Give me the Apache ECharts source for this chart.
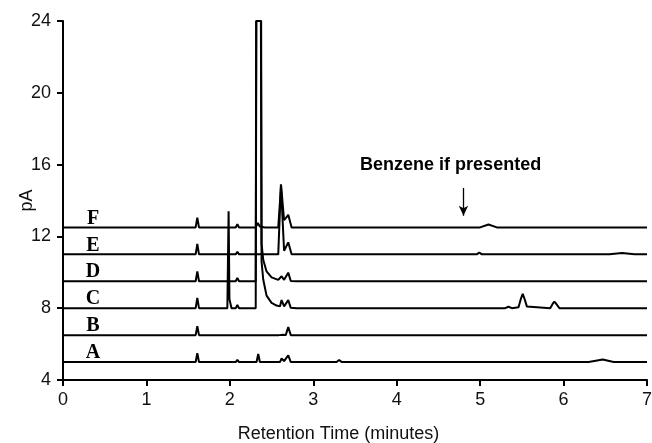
<!DOCTYPE html>
<html>
<head>
<meta charset="utf-8">
<script src="https://cdn.jsdelivr.net/npm/echarts@6/dist/echarts.min.js"></script>
<style>
  html, body { margin: 0; padding: 0; background: #fff; }
  #main { width: 652px; height: 443px; }
</style>
</head>
<body>
<div id="main"></div>
<script>
// trace names and their baselines (pA)
var traceNames = ["A", "B", "C", "D", "E", "F"];
var baselines = [5.0, 6.5, 8.0, 9.5, 11.0, 12.5];

// x ticks (minutes) and y ticks (pA)
var xTicks = [0, 1, 2, 3, 4, 5, 6, 7];
var yTicks = [4, 8, 12, 16, 20, 24];

// chromatogram points: [minutes, pA]
var traceA = [
  [0, 5], [1.59, 5], [1.61, 5.5], [1.63, 5], [1.97, 5], [1.99, 5.1], [2.01, 5],
  [2.07, 5], [2.09, 5.12], [2.11, 5], [2.32, 5], [2.34, 5.45], [2.36, 5],
  [2.6, 5], [2.62, 5.2], [2.65, 5.05], [2.7, 5.38], [2.73, 5],
  [3.21, 5], [3.23, 5.08], [3.25, 5], [3.28, 5], [3.31, 5.12], [3.34, 5],
  [6.3, 5], [6.47, 5.14], [6.6, 5], [7, 5]
];
var traceB = [
  [0, 6.5], [1.59, 6.5], [1.61, 7.0], [1.63, 6.5], [2.07, 6.5], [2.09, 6.58], [2.11, 6.5],
  [2.59, 6.5], [2.61, 6.6], [2.64, 6.52], [2.67, 6.5], [2.7, 6.95], [2.73, 6.5],
  [3.2, 6.5], [3.22, 6.58], [3.24, 6.5], [7, 6.5]
];
var traceC = [
  [0, 8], [1.59, 8], [1.61, 8.58], [1.63, 8], [1.97, 8], [1.985, 13.4], [1.995, 8.5], [2.02, 8],
  [2.07, 8], [2.09, 8.18], [2.11, 8], [2.31, 8], [2.315, 24], [2.375, 24],
  [2.38, 10.6], [2.4, 9.6], [2.44, 8.7], [2.5, 8.3], [2.56, 8.15], [2.6, 8.1],
  [2.62, 8.45], [2.65, 8.1], [2.7, 8.45], [2.73, 8.02], [2.8, 8],
  [3.2, 8], [3.22, 8.1], [3.24, 8], [5.3, 8], [5.34, 8.08], [5.38, 8],
  [5.46, 8.05], [5.49, 8.55], [5.51, 8.8], [5.53, 8.55], [5.56, 8.1], [5.58, 8],
  [5.84, 8], [5.87, 8.25], [5.89, 8.37], [5.91, 8.25], [5.95, 8], [7, 8]
];
var traceD = [
  [0, 9.5], [1.59, 9.5], [1.61, 10.05], [1.63, 9.5], [2.07, 9.5], [2.09, 9.68], [2.11, 9.5],
  [2.31, 9.5], [2.318, 24], [2.372, 24], [2.38, 11.6], [2.4, 10.7], [2.44, 10.05],
  [2.5, 9.72], [2.58, 9.58], [2.62, 9.78], [2.65, 9.58], [2.7, 9.98], [2.73, 9.52], [2.8, 9.5],
  [3.2, 9.5], [3.22, 9.58], [3.24, 9.5], [3.7, 9.5], [3.72, 9.56], [3.74, 9.5], [7, 9.5]
];
var traceE = [
  [0, 11], [1.59, 11], [1.61, 11.58], [1.63, 11], [2.07, 11], [2.09, 11.15], [2.11, 11],
  [2.58, 11], [2.612, 14.9], [2.65, 11.2], [2.7, 11.67], [2.74, 11],
  [3.2, 11], [3.22, 11.1], [3.24, 11], [4.96, 11], [4.99, 11.1], [5.02, 11],
  [5.5, 11], [5.52, 11.08], [5.54, 11], [6.55, 11], [6.7, 11.08], [6.85, 11], [7, 11]
];
var traceF = [
  [0, 12.5], [1.59, 12.5], [1.61, 13.05], [1.63, 12.5], [2.07, 12.5], [2.09, 12.68], [2.11, 12.5],
  [2.31, 12.5], [2.335, 12.75], [2.36, 12.55], [2.42, 12.5],
  [2.58, 12.5], [2.614, 14.85], [2.65, 12.9], [2.7, 13.2], [2.74, 12.5],
  [3.2, 12.5], [3.22, 12.58], [3.24, 12.5], [3.91, 12.5], [3.93, 12.6], [3.95, 12.5],
  [5.0, 12.5], [5.1, 12.66], [5.2, 12.5], [5.84, 12.5], [5.86, 12.58], [5.88, 12.5], [7, 12.5]
];
var traces = [traceA, traceB, traceC, traceD, traceE, traceF];

var myChart = echarts.init(document.getElementById("main"));

var black = "#000";
var series = traces.map(function (d, i) {
  return {
    name: traceNames[i],
    type: "line",
    data: d,
    showSymbol: false,
    animation: false,
    lineStyle: { color: black, width: 2 },
    z: 3
  };
});

// arrow pointing to where benzene would elute
series[5].markLine = {
  silent: true,
  symbol: ["none", "arrow"],
  symbolSize: [7, 10],
  label: { show: false },
  lineStyle: { color: black, width: 1.3, type: "solid" },
  data: [[{ coord: [4.8, 14.7] }, { coord: [4.8, 13.15] }]]
};

// trace letters just above each baseline
series.push({
  type: "scatter",
  symbolSize: 0,
  silent: true,
  animation: false,
  itemStyle: { color: black, opacity: 1 },
  data: baselines.map(function (b, i) { return { value: [0.36, b + 0.5], name: traceNames[i] }; }),
  label: {
    show: true,
    position: "inside",
    formatter: "{b}",
    color: black,
    opacity: 1,
    textBorderWidth: 0,
    fontFamily: "Liberation Serif, Times New Roman, serif",
    fontWeight: "bold",
    fontSize: 20
  }
});

// annotation text
series.push({
  type: "scatter",
  symbolSize: 0,
  silent: true,
  animation: false,
  itemStyle: { color: black, opacity: 1 },
  data: [{ value: [4.646, 15.98], name: "Benzene if presented" }],
  label: {
    show: true,
    position: "inside",
    formatter: "{b}",
    color: black,
    opacity: 1,
    textBorderWidth: 0,
    fontFamily: "Liberation Sans, Arial, sans-serif",
    fontWeight: "bold",
    fontSize: 18
  }
});

var axisFont = { color: "#111", fontSize: 18, fontFamily: "Liberation Sans, Arial, sans-serif" };

myChart.setOption({
  animation: false,
  grid: { left: 63, right: 5, top: 21, bottom: 63, containLabel: false, outerBoundsMode: "none" },
  xAxis: {
    type: "value",
    min: xTicks[0],
    max: xTicks[xTicks.length - 1],
    interval: 1,
    name: "Retention Time (minutes)",
    nameLocation: "middle",
    nameGap: 45,
    nameMoveOverlap: false,
    nameTextStyle: Object.assign({ padding: [0, 33, 0, 0] }, axisFont),
    axisLine: { onZero: false, lineStyle: { color: black, width: 2 } },
    axisTick: { inside: false, length: 6, lineStyle: { color: black, width: 2 } },
    axisLabel: Object.assign({ margin: 11 }, axisFont),
    splitLine: { show: false }
  },
  yAxis: {
    type: "value",
    min: yTicks[0],
    max: yTicks[yTicks.length - 1],
    interval: 4,
    name: "pA",
    nameLocation: "middle",
    nameGap: 27,
    nameMoveOverlap: false,
    nameTextStyle: axisFont,
    axisLine: { show: true, lineStyle: { color: black, width: 2 } },
    axisTick: { show: true, inside: false, length: 6, lineStyle: { color: black, width: 2 } },
    axisLabel: Object.assign({ margin: 12 }, axisFont),
    splitLine: { show: false }
  },
  series: series
});
</script>
</body>
</html>
